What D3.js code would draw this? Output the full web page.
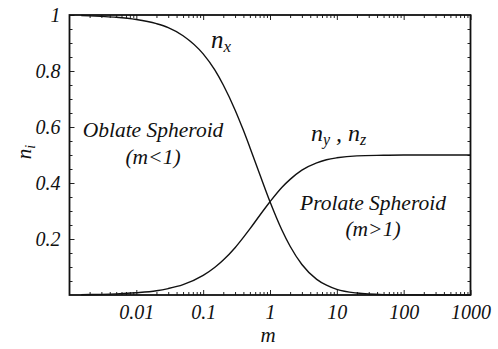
<!DOCTYPE html>
<html>
<head>
<meta charset="utf-8">
<script src="https://cdn.jsdelivr.net/npm/d3@7"></script>
<style>
  body { margin: 0; background: #fff; }
  svg text { font-style: italic; fill: #111; }
  .axis path { display: none; }
  .axis line { stroke: #222; stroke-width: 1; }
</style>
</head>
<body>
<svg width="498" height="349"></svg>
<script>
// aspect ratio m (log axis) and demagnetizing factors
const mVals = [0.0015, 0.002, 0.003, 0.005, 0.01, 0.02, 0.03, 0.05, 0.1, 0.15, 0.2, 0.3, 0.4, 0.5, 0.7,
    1, 1.5, 2, 3, 5, 7, 10, 20, 50, 100, 1000];
const nxVals = [0.998, 0.997, 0.995, 0.992, 0.984, 0.969, 0.955, 0.926, 0.861, 0.803, 0.750, 0.661, 0.588, 0.527, 0.432,
    0.333, 0.233, 0.174, 0.109, 0.056, 0.035, 0.020, 0.007, 0.0014, 0.0004, 0];
const nyVals = [0.001, 0.0016, 0.0024, 0.004, 0.008, 0.015, 0.023, 0.037, 0.070, 0.099, 0.125, 0.169, 0.206, 0.236, 0.284,
    0.333, 0.384, 0.413, 0.446, 0.472, 0.483, 0.490, 0.497, 0.499, 0.500, 0.5];

const xTicks = [0.01, 0.1, 1, 10, 100, 1000];
const xTickLabels = ['0.01', '0.1', '1', '10', '100', '1000'];
const yTicks = [0.2, 0.4, 0.6, 0.8, 1];
const yTickLabels = ['0.2', '0.4', '0.6', '0.8', '1'];

const mLeft = 69.5, mRight = 470.5, mTop = 15, mBottom = 295;
const serif = "Liberation Serif, Tinos, Times New Roman, Times, Nimbus Roman, FreeSerif, Noto Serif, DejaVu Serif, serif";

const svg = d3.select('svg');

const x = d3.scaleLog().domain([0.001, 1000]).range([mLeft, mRight]);
const y = d3.scaleLinear().domain([0, 1]).range([mBottom, mTop]);

// minor ticks: 1..9 per decade on x, every 0.05 on y
const xMinor = [];
for (let e = -3; e < 3; e++) for (let k = 2; k < 10; k++) xMinor.push(k * Math.pow(10, e));
const yMinor = d3.range(0.05, 1, 0.05);

svg.append('g').attr('class', 'axis')
    .attr('transform', 'translate(0,' + mBottom + ')')
    .call(d3.axisBottom(x).tickValues(xMinor).tickSize(-3).tickFormat(''));
svg.append('g').attr('class', 'axis')
    .attr('transform', 'translate(0,' + mTop + ')')
    .call(d3.axisTop(x).tickValues(xMinor).tickSize(-3).tickFormat(''));
svg.append('g').attr('class', 'axis')
    .attr('transform', 'translate(0,' + mTop + ')')
    .call(d3.axisTop(x).tickValues(xTicks).tickSize(-5).tickFormat(''));
svg.append('g').attr('class', 'axis')
    .attr('transform', 'translate(' + mLeft + ',0)')
    .call(d3.axisLeft(y).tickValues(yMinor).tickSize(-3).tickFormat(''));
svg.append('g').attr('class', 'axis')
    .attr('transform', 'translate(' + mRight + ',0)')
    .call(d3.axisRight(y).tickValues(yMinor).tickSize(-3).tickFormat(''));

const xAxis = svg.append('g').attr('class', 'axis')
    .attr('transform', 'translate(0,' + mBottom + ')')
    .call(d3.axisBottom(x).tickValues(xTicks).tickSize(-5).tickPadding(10)
        .tickFormat((d, i) => xTickLabels[i]));
xAxis.attr('font-family', serif).attr('font-size', 20);

const yAxis = svg.append('g').attr('class', 'axis')
    .attr('transform', 'translate(' + mLeft + ',0)')
    .call(d3.axisLeft(y).tickValues(yTicks).tickSize(-5).tickPadding(9)
        .tickFormat((d, i) => yTickLabels[i]));
yAxis.attr('font-family', serif).attr('font-size', 20);

// frame
svg.append('rect')
    .attr('x', mLeft).attr('y', mTop)
    .attr('width', mRight - mLeft).attr('height', mBottom - mTop)
    .attr('fill', 'none').attr('stroke', '#111').attr('stroke-width', 1.8);

const line = d3.line()
    .x(d => x(d[0]))
    .y(d => y(d[1]))
    .curve(d3.curveMonotoneX);

svg.append('path')
    .datum(mVals.map((m, i) => [m, nxVals[i]]))
    .attr('d', line)
    .attr('fill', 'none').attr('stroke', '#111').attr('stroke-width', 1.4);

svg.append('path')
    .datum(mVals.map((m, i) => [m, nyVals[i]]))
    .attr('d', line)
    .attr('fill', 'none').attr('stroke', '#111').attr('stroke-width', 1.4);

// labels
const labels = svg.append('g').attr('font-family', serif);

labels.append('text').attr('x', 268).attr('y', 342)
    .attr('text-anchor', 'middle').attr('font-size', 21).text('m');

const yl = labels.append('text')
    .attr('transform', 'translate(31,152) rotate(-90)')
    .attr('text-anchor', 'middle').attr('font-size', 21);
yl.append('tspan').text('n');
yl.append('tspan').attr('dy', 4).attr('font-size', 14).text('i');

const nx = labels.append('text').attr('x', 211).attr('y', 48).attr('font-size', 25);
nx.append('tspan').text('n');
nx.append('tspan').attr('dy', 4).attr('font-size', 17).text('x');

const nyz = labels.append('text').attr('x', 311).attr('y', 141).attr('font-size', 24);
nyz.append('tspan').text('n');
nyz.append('tspan').attr('dy', 4).attr('font-size', 16).text('y');
nyz.append('tspan').attr('dy', -4).text(' , n');
nyz.append('tspan').attr('dy', 4).attr('font-size', 16).text('z');

labels.append('text').attr('x', 153).attr('y', 137)
    .attr('text-anchor', 'middle').attr('font-size', 21.5).text('Oblate Spheroid');
labels.append('text').attr('x', 153).attr('y', 164)
    .attr('text-anchor', 'middle').attr('font-size', 21.5).text('(m<1)');
labels.append('text').attr('x', 373).attr('y', 210)
    .attr('text-anchor', 'middle').attr('font-size', 21.5).text('Prolate Spheroid');
labels.append('text').attr('x', 373).attr('y', 236)
    .attr('text-anchor', 'middle').attr('font-size', 21.5).text('(m>1)');
</script>
</body>
</html>
